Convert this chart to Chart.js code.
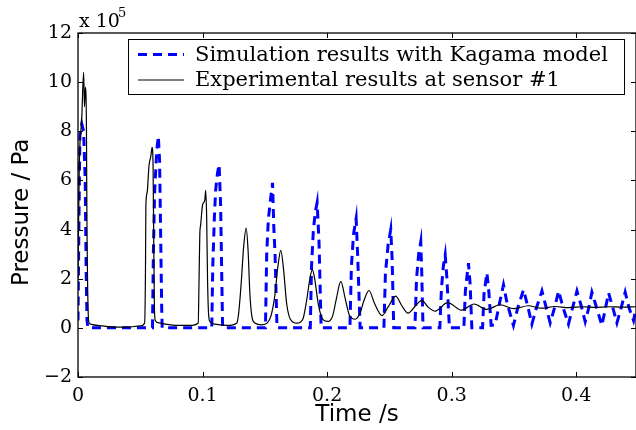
<!DOCTYPE html>
<html>
<head>
<meta charset="utf-8">
<script src="https://cdn.jsdelivr.net/npm/chart.js@4"></script>
<style>
  html, body { margin: 0; padding: 0; background: #fff; }
  #wrap { width: 636px; height: 430px; }
</style>
</head>
<body>
<div id="wrap"><canvas id="chart" width="636" height="430"></canvas></div>
<script>
// pressure values are in units of 1e5 Pa (axis shows "x 10^5")
const simTime = [
    0, 0.0008, 0.0015, 0.003, 0.0045, 0.0058, 0.0065, 0.0072, 0.008,
    0.0598, 0.0605, 0.0615, 0.0632, 0.0645, 0.0655, 0.0663, 0.0672, 0.0676,
    0.1074, 0.1082, 0.1095, 0.1105, 0.112, 0.1133, 0.1145, 0.1153, 0.1161,
    0.1505, 0.1515, 0.1528, 0.1545, 0.1562, 0.1572, 0.1582, 0.1598,
    0.1865, 0.1875, 0.189, 0.1905, 0.192, 0.1935, 0.1952,
    0.2183, 0.2195, 0.2212, 0.2233, 0.2245, 0.2265,
    0.2456, 0.2468, 0.249, 0.2511, 0.2522, 0.2535,
    0.2705, 0.2718, 0.2735, 0.2752, 0.276, 0.277,
    0.2905, 0.2918, 0.2933, 0.2948, 0.2962, 0.2982,
    0.3098, 0.311, 0.3125, 0.3135, 0.3148, 0.3162,
    0.3248, 0.326, 0.3283, 0.3298, 0.3317,
    0.3349, 0.338, 0.3416, 0.3445, 0.3496, 0.353, 0.3577, 0.361,
    0.3644, 0.368, 0.3725, 0.3755, 0.3791, 0.3825, 0.3859, 0.389,
    0.3938, 0.397, 0.4006, 0.404, 0.4072, 0.41, 0.4126, 0.4165,
    0.4206, 0.4235, 0.426, 0.4295, 0.4327, 0.436, 0.4393, 0.4425,
    0.446, 0.448
];
const simPressure = [
    0.3, 4.5, 7.8, 8.3, 8.0, 6.0, 2.5, 0.3, 0,
    0, 3.0, 5.5, 7.2, 7.8, 6.8, 4.0, 0.8, 0,
    0, 2.5, 4.5, 5.6, 6.3, 6.65, 5.0, 2.5, 0,
    0, 3.0, 4.4, 5.2, 5.9, 4.1, 3.0, 0,
    0, 2.5, 4.0, 4.7, 5.1, 3.5, 0,
    0, 2.5, 3.8, 4.45, 3.0, 0,
    0, 2.2, 3.4, 4.0, 2.8, 0,
    0, 2.0, 3.0, 3.5, 2.2, 0,
    0, 1.6, 2.5, 2.97, 2.0, 0,
    0, 1.5, 2.2, 2.63, 1.8, 0,
    0, 1.4, 2.24, 1.5, 0.1,
    0.12, 0.9, 1.75, 1.0, 0.1, 0.8, 1.55, 0.9,
    0.15, 0.8, 1.5, 0.9, 0.2, 0.8, 1.5, 0.9,
    0.15, 0.8, 1.5, 0.9, 0.25, 0.8, 1.45, 0.8,
    0.1, 0.8, 1.42, 0.8, 0.2, 0.8, 1.45, 0.8,
    0.3, 0.8
];

const expTime = [
    0, 0.001, 0.003, 0.0045, 0.0052, 0.006, 0.0068, 0.0072, 0.0078, 0.0085,
    0.01, 0.02, 0.03, 0.04, 0.05, 0.0535,
    0.0542, 0.0545, 0.0555, 0.057, 0.0585, 0.0595, 0.0603, 0.0608, 0.0613, 0.062,
    0.065, 0.07, 0.08, 0.09, 0.0965,
    0.0972, 0.0978, 0.0985, 0.1, 0.1018, 0.1025, 0.1033, 0.104, 0.1048, 0.106,
    0.11, 0.12, 0.1275,
    0.129, 0.131, 0.133, 0.135, 0.1365, 0.138, 0.1395, 0.142, 0.1475,
    0.152, 0.155, 0.158, 0.1605, 0.1628, 0.165, 0.1675, 0.1705, 0.1757,
    0.1805, 0.1835, 0.1865, 0.1882, 0.19, 0.193, 0.1965, 0.2008,
    0.2045, 0.2075, 0.211, 0.2145, 0.218, 0.2225,
    0.2265, 0.2295, 0.2337, 0.238, 0.244,
    0.249, 0.255, 0.26, 0.265,
    0.271, 0.276, 0.281, 0.2867,
    0.2968, 0.308, 0.318, 0.328, 0.339, 0.35, 0.3614, 0.372, 0.383, 0.394,
    0.405, 0.415, 0.426, 0.437, 0.448
];
const expPressure = [
    2.0, 6.5, 8.5, 10.4, 9.0, 9.8, 8.0, 4.0, 1.5, 0.3,
    0.15, 0.08, 0.03, 0.03, 0.08, 0.2,
    2.5, 5.0, 5.5, 6.6, 7.0, 7.35, 6.5, 3.5, 1.0, 0.3,
    0.2, 0.15, 0.1, 0.1, 0.2,
    2.0, 3.8, 4.2, 5.0, 5.2, 5.6, 4.5, 2.0, 0.6, 0.25,
    0.15, 0.1, 0.2,
    0.6, 1.8, 3.3, 4.06, 3.2, 1.4, 0.5, 0.2, 0.12,
    0.2, 0.5, 1.3, 2.5, 3.15, 2.4, 1.0, 0.35, 0.19,
    0.35, 1.1, 2.1, 2.36, 2.0, 0.95, 0.35, 0.26,
    0.5, 1.2, 1.89, 1.2, 0.5, 0.35,
    0.6, 1.1, 1.52, 1.0, 0.5,
    0.85, 1.29, 0.9, 0.6,
    0.9, 1.12, 0.85, 0.68,
    1.03, 0.72, 0.97, 0.75, 0.94, 0.78, 0.9, 0.8, 0.87, 0.82,
    0.86, 0.83, 0.86, 0.84, 0.86
];

const seriesNames = ["Simulation results with Kagama model", "Experimental results at sensor #1"];
const xRange = [0, 0.448];
const yRange = [-2, 12];

const serif = "'DejaVu Serif', 'Liberation Serif', serif";
const sans = "'DejaVu Sans', 'Liberation Sans', sans-serif";

// matlab style box, inward ticks, legend and exponent label
const matlabFrame = {
    id: 'matlabFrame',
    afterDraw(chart) {
        const { ctx, chartArea: a, scales } = chart;
        ctx.save();
        ctx.strokeStyle = '#000';
        ctx.lineWidth = 1.3;
        ctx.strokeRect(a.left, a.top, a.right - a.left, a.bottom - a.top);

        ctx.lineWidth = 1;
        ctx.beginPath();
        scales.x.ticks.forEach(t => {
            const px = Math.round(scales.x.getPixelForValue(t.value)) + 0.5;
            ctx.moveTo(px, a.bottom); ctx.lineTo(px, a.bottom - 5);
            ctx.moveTo(px, a.top); ctx.lineTo(px, a.top + 5);
        });
        scales.y.ticks.forEach(t => {
            const py = Math.round(scales.y.getPixelForValue(t.value)) + 0.5;
            ctx.moveTo(a.left, py); ctx.lineTo(a.left + 5, py);
            ctx.moveTo(a.right, py); ctx.lineTo(a.right - 5, py);
        });
        ctx.stroke();

        // exponent
        ctx.fillStyle = '#000';
        ctx.textBaseline = 'alphabetic';
        ctx.textAlign = 'left';
        ctx.font = '19px ' + serif;
        ctx.fillText('x 10', 79, 27);
        ctx.font = '13px ' + serif;
        ctx.fillText('5', 118, 17);

        // legend
        const box = { x: 128.5, y: 39.5, w: 496, h: 55 };
        ctx.fillStyle = '#fff';
        ctx.fillRect(box.x, box.y, box.w, box.h);
        ctx.strokeStyle = '#000';
        ctx.lineWidth = 1;
        ctx.strokeRect(box.x, box.y, box.w, box.h);

        const rows = [54.5, 80];
        chart.data.datasets.forEach((ds, i) => {
            ctx.save();
            ctx.strokeStyle = ds.borderColor;
            ctx.lineWidth = ds.borderWidth;
            ctx.setLineDash(ds.borderDash || []);
            ctx.beginPath();
            ctx.moveTo(138, rows[i]);
            ctx.lineTo(184, rows[i]);
            ctx.stroke();
            ctx.restore();
            ctx.fillStyle = '#000';
            ctx.font = '21px ' + serif;
            ctx.textBaseline = 'middle';
            ctx.fillText(ds.label, 195, rows[i] + 1);
        });
        ctx.restore();
    }
};

const ctx = document.getElementById('chart');

new Chart(ctx, {
    type: 'line',
    data: {
        datasets: [
            {
                label: seriesNames[0],
                data: simTime.map((t, i) => ({ x: t, y: simPressure[i] })),
                borderColor: '#0000ff',
                borderWidth: 3,
                borderDash: [9, 6],
                pointRadius: 0,
                tension: 0,
                order: 1
            },
            {
                label: seriesNames[1],
                data: expTime.map((t, i) => ({ x: t, y: expPressure[i] })),
                borderColor: '#000000',
                borderWidth: 1.2,
                pointRadius: 0,
                cubicInterpolationMode: 'monotone',
                order: 0
            }
        ]
    },
    options: {
        responsive: false,
        animation: false,
        layout: { padding: { top: 33, right: 0, left: 0, bottom: 0 } },
        plugins: {
            legend: { display: false },
            tooltip: { enabled: false }
        },
        scales: {
            x: {
                type: 'linear',
                min: xRange[0],
                max: xRange[1],
                grid: { display: false, drawTicks: false },
                border: { display: false },
                ticks: {
                    stepSize: 0.1,
                    includeBounds: false,
                    padding: 8,
                    color: '#000',
                    maxRotation: 0,
                    font: { family: serif, size: 19 },
                    callback: v => String(Math.round(v * 10) / 10)
                },
                title: {
                    display: true,
                    text: 'Time /s',
                    color: '#000',
                    font: { family: sans, size: 23 },
                    padding: { top: 0, bottom: 1 }
                },
                afterFit: s => { s.height = 53; }
            },
            y: {
                min: yRange[0],
                max: yRange[1],
                grid: { display: false, drawTicks: false },
                border: { display: false },
                ticks: {
                    stepSize: 2,
                    padding: 6,
                    color: '#000',
                    font: { family: serif, size: 19 },
                    callback: v => String(v).replace('-', '\u2212')
                },
                title: {
                    display: true,
                    text: 'Pressure / Pa  ',
                    color: '#000',
                    font: { family: sans, size: 23 },
                    padding: { top: 8, bottom: 0 }
                },
                afterFit: s => { s.width = 78; }
            }
        }
    },
    plugins: [matlabFrame]
});
</script>
</body>
</html>
